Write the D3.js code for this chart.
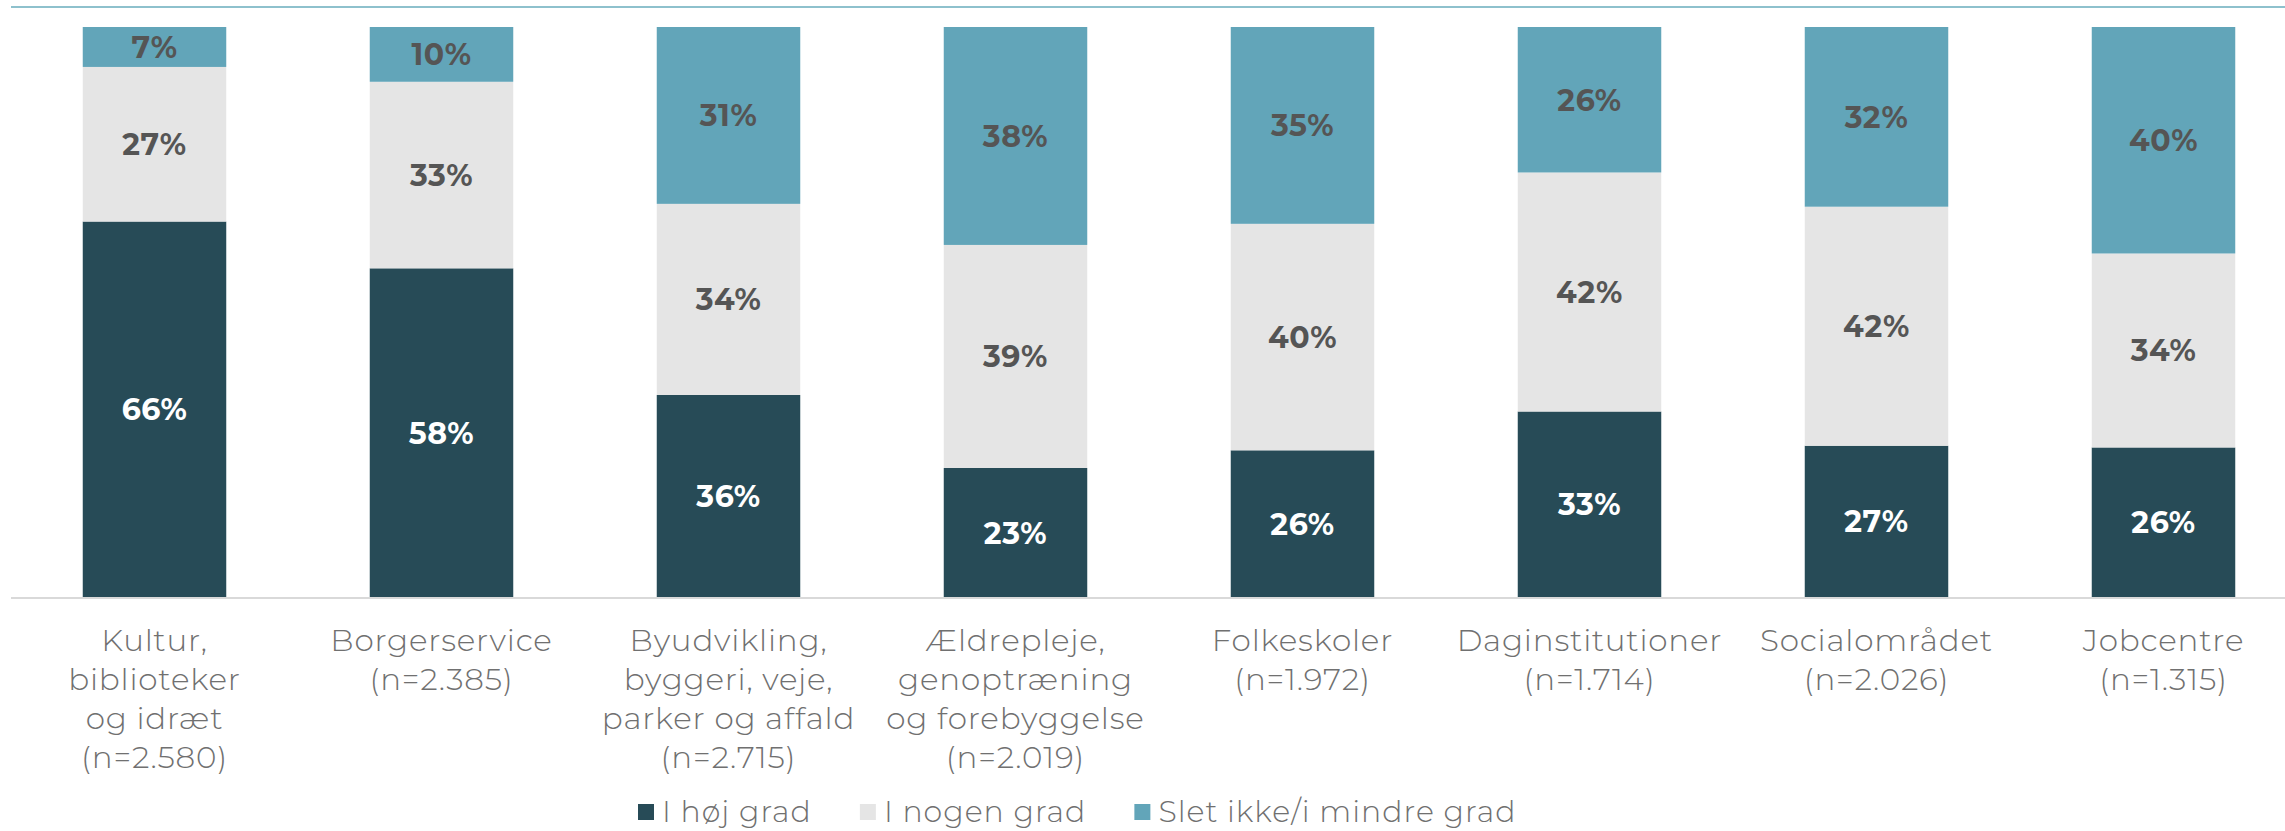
<!DOCTYPE html>
<html lang="da">
<head>
	<meta charset="UTF-8">
	<title>Stacked bars</title>
	<style>
		body { margin: 0; background: #fff; }
	</style>
</head>
<body>
<script src="https://d3js.org/d3.v7.min.js"></script>
<script>
	let width = 2285;
	let height = 831;

	// data
	let categories = [
		['Kultur,', 'biblioteker', 'og idræt', '(n=2.580)'],
		['Borgerservice', '(n=2.385)'],
		['Byudvikling,', 'byggeri, veje,', 'parker og affald', '(n=2.715)'],
		['Ældrepleje,', 'genoptræning', 'og forebyggelse', '(n=2.019)'],
		['Folkeskoler', '(n=1.972)'],
		['Daginstitutioner', '(n=1.714)'],
		['Socialområdet', '(n=2.026)'],
		['Jobcentre', '(n=1.315)']
	];
	let seriesNames = ['I høj grad', 'I nogen grad', 'Slet ikke/i mindre grad'];
	let hoej = [65.9, 57.7, 35.5, 22.7, 25.8, 32.6, 26.6, 26.3];
	let nogen = [27.1, 32.7, 33.5, 39.1, 39.7, 41.9, 41.9, 34.0];
	let slet = [7.0, 9.6, 31.0, 38.2, 34.5, 25.5, 31.5, 39.7];
	let colors = ['#274b57', '#e5e5e5', '#62a5b9'];
	let labelColors = ['#ffffff', '#555555', '#555555'];

	let rows = categories.map(function(c, i) {
		return { idx: i, s0: hoej[i], s1: nogen[i], s2: slet[i] };
	});

	let stack = d3.stack().keys(['s0', 's1', 's2']);
	let layers = stack(rows);

	let xScale = d3.scaleBand()
			.domain(d3.range(categories.length))
			.range([11, 2307])
			.paddingInner(0.5)
			.paddingOuter(0.25);
	let yScale = d3.scaleLinear()
			.domain([0, 100])
			.range([597.5, 27]);

	let svg = d3.select('body')
			.append('svg')
			.attr('width', width)
			.attr('height', height);

	// top rule
	svg.append('line')
			.attr('x1', 11)
			.attr('x2', width)
			.attr('y1', 7)
			.attr('y2', 7)
			.attr('stroke', '#8ec1cd')
			.attr('stroke-width', 2);

	let groups = svg.append('g')
			.selectAll('g')
			.data(layers)
			.enter()
			.append('g')
			.attr('fill', function(d, i){ return colors[i]; });

	groups.selectAll('rect')
			.data(function(d){ return d; })
			.enter()
			.append('rect')
			.attr('x', function(d){ return xScale(d.data.idx); })
			.attr('y', function(d){ return yScale(d[1]); })
			.attr('width', xScale.bandwidth())
			.attr('height', function(d){ return yScale(d[0]) - yScale(d[1]); });

	// value labels
	layers.forEach(function(layer, li) {
		svg.append('g')
				.selectAll('text')
				.data(layer)
				.enter()
				.append('text')
				.attr('x', function(d){ return xScale(d.data.idx) + xScale.bandwidth() / 2; })
				.attr('y', function(d){ return (yScale(d[0]) + yScale(d[1])) / 2; })
				.attr('dy', '0.36em')
				.attr('text-anchor', 'middle')
				.attr('font-family', 'Montserrat, "Open Sans", sans-serif')
				.attr('font-weight', 700)
				.attr('font-size', '30px')
				.attr('letter-spacing', '0.6px')
				.attr('fill', labelColors[li])
				.text(function(d){ return Math.round(d[1] - d[0]) + '%'; });
	});

	// baseline
	svg.append('line')
			.attr('x1', 11)
			.attr('x2', width)
			.attr('y1', yScale(0) + 0.5)
			.attr('y2', yScale(0) + 0.5)
			.attr('stroke', '#d9d9d9')
			.attr('stroke-width', 2);

	// category labels
	let xAxis = svg.append('g')
			.selectAll('text')
			.data(categories)
			.enter()
			.append('text')
			.attr('x', function(d, i){ return xScale(i) + xScale.bandwidth() / 2; })
			.attr('y', 651)
			.attr('text-anchor', 'middle')
			.attr('font-family', 'Montserrat, Lato, "Open Sans", sans-serif')
			.attr('font-weight', 300)
			.attr('font-size', '31px')
			.attr('letter-spacing', '0.8px')
			.attr('fill', '#707070');

	xAxis.selectAll('tspan')
			.data(function(d){ return d; })
			.enter()
			.append('tspan')
			.attr('x', function(){ return d3.select(this.parentNode).attr('x'); })
			.attr('dy', function(d, i){ return i === 0 ? 0 : 39; })
			.text(function(d){ return d; });

	// legend
	let legend = svg.append('g');
	let lx = 638;
	seriesNames.forEach(function(name, i) {
		legend.append('rect')
				.attr('x', lx)
				.attr('y', 804)
				.attr('width', 16)
				.attr('height', 16)
				.attr('fill', colors[i]);
		let t = legend.append('text')
				.attr('x', lx + 24)
				.attr('y', 822)
				.attr('font-family', 'Montserrat, Lato, "Open Sans", sans-serif')
				.attr('font-weight', 300)
				.attr('font-size', '30px')
				.attr('letter-spacing', '1px')
				.attr('fill', '#707070')
				.text(name);
		lx = lx + 24 + t.node().getComputedTextLength() + 48;
	});
</script>
</body>
</html>
